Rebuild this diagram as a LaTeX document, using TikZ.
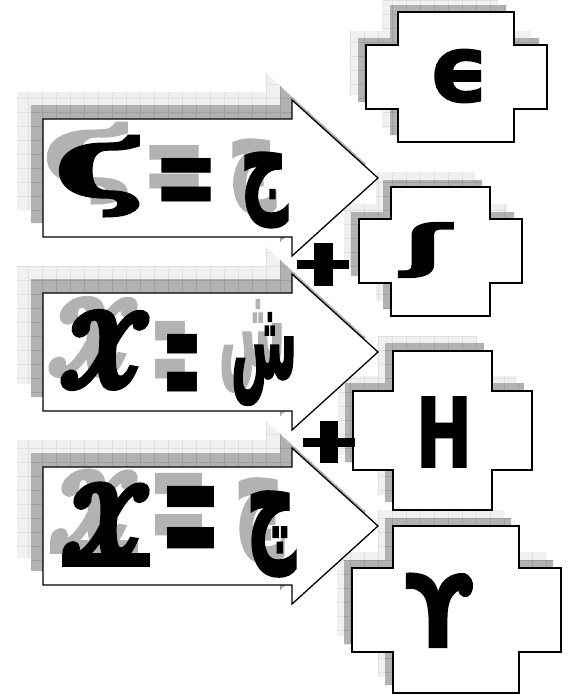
\documentclass[tikz,border=0pt]{standalone}
\usepackage{fontspec}
\usepackage{graphicx}
\newfontfamily\dejavu[FakeBold=2]{DejaVu Sans Bold}
\newfontfamily\dejavuserif[FakeBold=3]{DejaVu Serif Bold}
\newfontfamily\dejaveq{DejaVu Sans Bold}
\newfontfamily\lmmath[FakeBold=7]{latinmodern-math.otf}
\newfontfamily\arabicfont[Script=Arabic,FakeBold=2]{DejaVu Sans Bold}
\TeXXeTstate=1
\definecolor{shdark}{gray}{0.70}
\definecolor{shdarkline}{gray}{0.62}
\definecolor{shlight}{gray}{0.94}
\definecolor{shlightline}{gray}{0.88}
\tikzset{
  arrowpath/.style={insert path={(43,#1-59) -- (292,#1-59) -- (292,#1-78) -- (378,#1) -- (292,#1+78) -- (292,#1+59) -- (43,#1+59) -- cycle}},
  crosspath/.style n args={8}{insert path={(#7,#3) -- (#8,#3) -- (#8,#5) -- (#2,#5) -- (#2,#6) -- (#8,#6) -- (#8,#4) -- (#7,#4) -- (#7,#6) -- (#1,#6) -- (#1,#5) -- (#7,#5) -- cycle}},
  arrowbox/.style={draw=black, fill=white, line width=1.3pt, line join=miter},
  crossbox/.style={draw=black, fill=white, line width=1.8pt, line join=miter},
  glyph/.style={inner sep=0pt, outer sep=0pt, anchor=center},
  plusbar/.style={fill=black}
}
\newcommand\shadowpatch[3]{%
  \begin{scope}\clip[#1];\fill[#2] (0,0) rectangle (578,697);
  \draw[#3, line width=0.5pt, step=14pt] (0,0) grid (578,697);\end{scope}}
\newcommand\shtext[4]{%
  \node[glyph, text=shdark] (#1-d) at (#2-12,#3-13) {#4};}
\newcommand\Xbar{\setbox0\hbox{\lmmath 𝓧}\hbox{\rlap{\raisebox{-0.9pt}{\rule{\wd0}{1.4pt}}}\box0}}
\newcommand\GA{\resizebox*{92pt}{80pt}{\dejavuserif ϛ}}
\newcommand\GB{\resizebox*{48pt}{75pt}{\arabicfont\beginR ج\endR}}
\newcommand\GC{\resizebox*{90pt}{75pt}{\lmmath 𝓧}}
\newcommand\GD{\resizebox*{66pt}{92pt}{\arabicfont\beginR ش\endR}}
\newcommand\GE{\resizebox*{88pt}{82pt}{\Xbar}}
\newcommand\GF{\resizebox*{50pt}{85pt}{\arabicfont\beginR چ\endR}}
\newcommand\EqA{\resizebox*{66pt}{62pt}{\dejaveq =}}
\newcommand\EqB{\resizebox*{40pt}{82pt}{\dejaveq =}}
\newcommand\EqC{\resizebox*{63pt}{89pt}{\dejaveq =}}
\begin{document}
\begin{tikzpicture}[x=1pt,y=-1pt]
\useasboundingbox (0,0) rectangle (578,697);
% --- shadows of arrows
\foreach \yc in {178,352,526}{
  \shadowpatch{shift={(-26,-27)}, arrowpath=\yc}{shlight}{shlightline}
  \shadowpatch{shift={(-12,-14)}, arrowpath=\yc}{shdark}{shdarkline}
}
% --- shadows of crosses
\shadowpatch{shift={(-16,-14)}, crosspath={366}{547}{12}{142}{45}{109}{398}{514}}{shlight}{shlightline}
\shadowpatch{shift={(-8,-7)}, crosspath={366}{547}{12}{142}{45}{109}{398}{514}}{shdark}{shdarkline}
\shadowpatch{shift={(-15,-15)}, crosspath={359}{522}{187}{316}{219}{283}{391}{490}}{shlight}{shlightline}
\shadowpatch{shift={(-8,-7)}, crosspath={359}{522}{187}{316}{219}{283}{391}{490}}{shdark}{shdarkline}
\shadowpatch{shift={(-15,-15)}, crosspath={353}{532}{351}{510}{391}{470}{393}{492}}{shlight}{shlightline}
\shadowpatch{shift={(-8,-8)}, crosspath={353}{532}{351}{510}{391}{470}{393}{492}}{shdark}{shdarkline}
\shadowpatch{shift={(-15,-16)}, crosspath={352}{561}{526}{693}{568}{652}{393}{519}}{shlight}{shlightline}
\shadowpatch{shift={(-8,-8)}, crosspath={352}{561}{526}{693}{568}{652}{393}{519}}{shdark}{shdarkline}
% --- shapes
\foreach \yc in {178,352,526}{ \draw[arrowbox, arrowpath=\yc]; }
\draw[crossbox, crosspath={366}{547}{12}{142}{45}{109}{398}{514}];
\draw[crossbox, crosspath={359}{522}{187}{316}{219}{283}{391}{490}];
\draw[crossbox, crosspath={353}{532}{351}{510}{391}{470}{393}{492}];
\draw[crossbox, crosspath={352}{561}{526}{693}{568}{652}{393}{519}];
% --- text shadows
\shtext{t1a}{101}{176}{\GA}
\shtext{e1}{187}{189}{\EqA}
\shtext{t1b}{264}{190}{\GB}
\shtext{t2a}{105}{350}{\GC}
\shtext{e2}{182}{375}{\EqB}
\shtext{t2b}{264}{359}{\GD}
\shtext{t3a}{106}{526}{\GE}
\shtext{e3}{191}{531}{\EqC}
\shtext{t3b}{271}{534}{\GF}
% --- texts
\node[glyph] (t1a) at (101,176) {\GA};
\node[glyph] (e1) at (187,189) {\EqA};
\node[glyph] (t1b) at (264,190) {\GB};
\node[glyph] (t2a) at (105,350) {\GC};
\node[glyph] (e2) at (182,375) {\EqB};
\node[glyph] (t2b) at (264,359) {\GD};
\node[glyph] (t3a) at (106,526) {\GE};
\node[glyph] (e3) at (191,531) {\EqC};
\node[glyph] (t3b) at (271,534) {\GF};
\node[glyph] (c1) at (459,76) {\resizebox*{60pt}{53pt}{\dejavu ϵ}};
\node[glyph] (c2) at (427,250) {\resizebox*{48pt}{55pt}{\dejavu ʃ}};
\node[glyph] (c3) at (444,432) {\resizebox*{56pt}{70pt}{\dejavu H}};
\node[glyph] (c4) at (439,610) {\resizebox*{68pt}{74pt}{\dejavu ϒ}};
% --- plus signs
\fill[plusbar] (297,260) rectangle (349,269);
\fill[plusbar] (314,243) rectangle (333,286);
\fill[plusbar] (303,438) rectangle (355,447);
\fill[plusbar] (320,421) rectangle (338,463);
\end{tikzpicture}
\end{document}
